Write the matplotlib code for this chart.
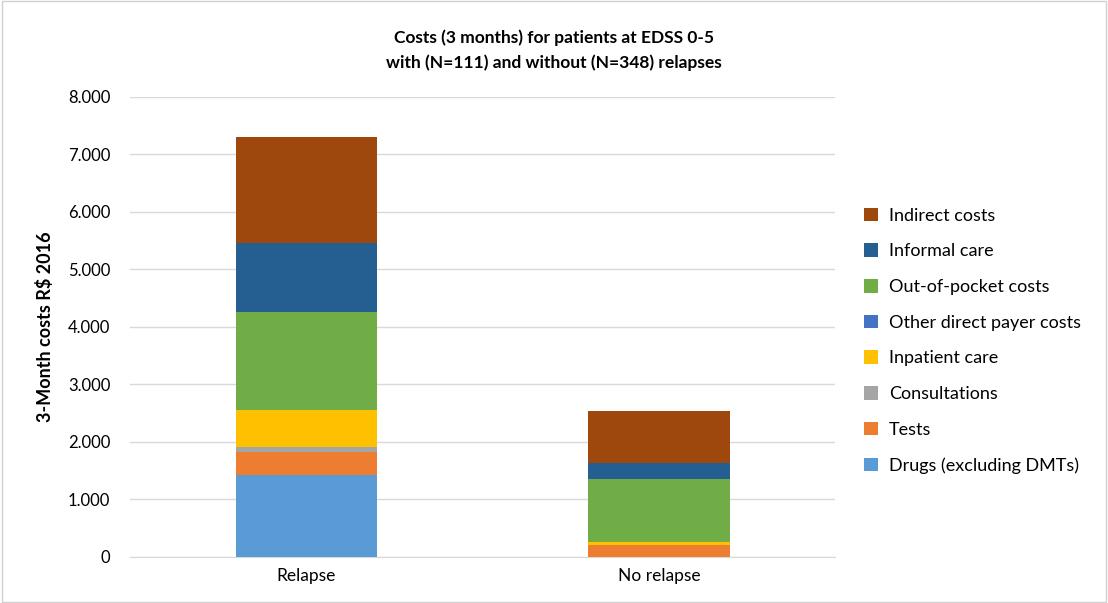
import matplotlib.pyplot as plt
import numpy as np
from matplotlib.ticker import FuncFormatter

plt.rcParams['font.family'] = ['Lato', 'DejaVu Sans']

# 3-month costs per component (R$ 2016)
groups = ['Relapse', 'No relapse']
components = ['Drugs (excluding DMTs)', 'Tests', 'Consultations', 'Inpatient care',
              'Other direct payer costs', 'Out-of-pocket costs', 'Informal care', 'Indirect costs']
drugs = [1430, 0]
tests = [400, 210]
consultations = [75, 0]
inpatient = [655, 45]
other_direct = [0, 0]
out_of_pocket = [1700, 1100]
informal = [1200, 280]
indirect = [1840, 900]

colors = ['#5B9BD5', '#ED7D31', '#A5A5A5', '#FFC000', '#4472C4', '#70AD47', '#255E91', '#9E480E']
series = [drugs, tests, consultations, inpatient, other_direct, out_of_pocket, informal, indirect]

fig = plt.figure(figsize=(11.08, 6.03), dpi=100)
ax = fig.add_axes([0.117, 0.0763, 0.637, 0.763])

x = np.arange(len(groups))
bottom = np.zeros(len(groups))
for name, vals, col in zip(components, series, colors):
    ax.bar(x, vals, width=0.40, bottom=bottom, color=col, label=name, zorder=3)
    bottom += np.array(vals)

ax.set_xlim(-0.5, 1.5)
ax.set_ylim(0, 8000)
ax.set_yticks(np.arange(0, 8001, 1000))
ax.yaxis.set_major_formatter(FuncFormatter(lambda v, p: f'{int(v):,}'.replace(',', '.')))
ax.set_xticks(x)
ax.set_xticklabels(groups, fontsize=12.5)
ax.tick_params(axis='y', labelsize=12, length=0, pad=14)
ax.tick_params(axis='x', length=0, pad=8)
ax.grid(axis='y', color='#D9D9D9', linewidth=1, zorder=0)
for side in ['top', 'right', 'left']:
    ax.spines[side].set_visible(False)
ax.spines['bottom'].set_color('#D9D9D9')

ax.set_ylabel('3-Month costs R\\$ 2016', fontsize=13, fontweight='bold', labelpad=10)
fig.text(0.5, 0.938, 'Costs (3 months) for patients at EDSS 0-5', ha='center', va='center',
         fontsize=12.5, fontweight='bold')
fig.text(0.5, 0.896, 'with (N=111) and without (N=348) relapses', ha='center', va='center',
         fontsize=12.5, fontweight='bold')

handles, labels = ax.get_legend_handles_labels()
fig.legend(handles[::-1], labels[::-1], loc='center left', bbox_to_anchor=(0.765, 0.435),
           frameon=False, fontsize=13, handlelength=0.8, handleheight=0.8,
           handletextpad=0.6, labelspacing=1.08)

# thin frame around the whole chart area
fig.add_artist(plt.Rectangle((0.002, 0.002), 0.996, 0.996, transform=fig.transFigure,
                             fill=False, edgecolor='#D0D0D0', linewidth=1))

plt.savefig('out.png', dpi=100)
